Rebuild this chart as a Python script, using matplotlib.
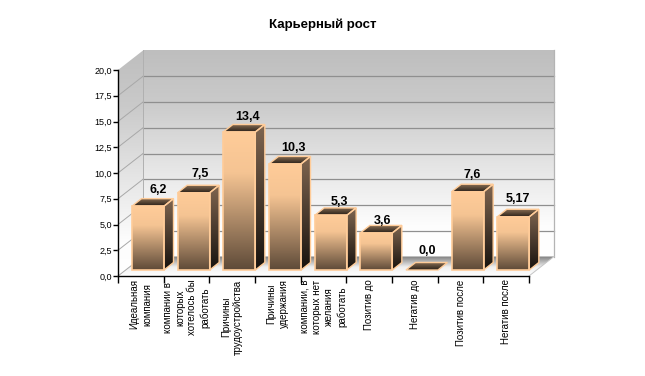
import numpy as np
import matplotlib
matplotlib.use("Agg")
import matplotlib.pyplot as plt
from matplotlib.colors import LinearSegmentedColormap
from matplotlib.patches import Polygon

plt.rcParams['font.family'] = ['Liberation Sans', 'DejaVu Sans']

# Data
title = "Карьерный рост"
categories = [
    "Идеальная\nкомпания",
    "компании в\nкоторых\nхотелось бы\nработать",
    "Причины\nтрудоустройства",
    "Причины\nудержания",
    "компании, в\nкоторых нет\nжелания\nработать",
    "Позитив до",
    "Негатив до",
    "Позитив после",
    "Негатив после",
]
values = [6.2, 7.5, 13.4, 10.3, 5.3, 3.6, 0.0, 7.6, 5.17]
value_labels = ["6,2", "7,5", "13,4", "10,3", "5,3", "3,6", "0,0", "7,6", "5,17"]
y_ticks = [0, 2.5, 5, 7.5, 10, 12.5, 15, 17.5, 20]
y_tick_labels = ["0,0", "2,5", "5,0", "7,5", "10,0", "12,5", "15,0", "17,5", "20,0"]

# where each value label sits relative to its bar, in pixels
label_shift = [10, 7, 8, 8, 9, 6, 5, 5, 4]
label_gap = [8.5, 11, 7, 8, 6, 4.5, 12, 9, 10]

W, H = 645, 376
left, right, top, bottom = 118, 529, 70, 276

fig = plt.figure(figsize=(W / 100, H / 100), dpi=100, facecolor="white")
ax = fig.add_axes([left / W, 1 - bottom / H, (right - left) / W, (bottom - top) / H])
ax.set_facecolor("none")

# pixels per data unit
sx = (right - left) / len(categories)
sy = (bottom - top) / 20

# depth of the 3d box and of a bar, in data units
dx, dy = 25 / sx, 19.5 / sy
bx, by = 9.5 / sx, 7.5 / sy
bar_x, bar_y, bar_w = 14 / sx, 6 / sy, 32 / sx


def grad_poly(pts, colors, zorder=1):
    # fill a polygon with a vertical gradient, first colour at the top
    xs = [p[0] for p in pts]
    ys = [p[1] for p in pts]
    cmap = LinearSegmentedColormap.from_list("g", colors)
    grad = np.linspace(0, 1, 256).reshape(-1, 1)
    im = ax.imshow(grad, cmap=cmap, aspect="auto", origin="upper",
                   extent=[min(xs), max(xs), min(ys), max(ys)], zorder=zorder)
    im.set_clip_box(fig.bbox)
    im.set_clip_path(Polygon(pts, closed=True, transform=ax.transData))
    return im


wall = [(0, "#bebebe"), (0.25, "#cacaca"), (0.55, "#e4e4e4"), (0.85, "#fdfdfd"), (1, "#ffffff")]
n = len(categories)

# back wall, left wall, floor
grad_poly([(dx, dy), (n + dx, dy), (n + dx, 20 + dy), (dx, 20 + dy)], wall)
grad_poly([(0, 0), (dx, dy), (dx, 20 + dy), (0, 20)], wall)
grad_poly([(0, 0), (dx, dy), (n + dx, dy), (n, 0)],
          [(0, "#7c7c7c"), (0.55, "#f0f0f0"), (1, "#ffffff")], zorder=1.5)

# grid lines on the walls
for v in y_ticks[:-1]:
    ax.plot([0, dx], [v, v + dy], color="#a8a8a8", lw=0.7, clip_on=False, zorder=2)
    if v > 0:
        ax.plot([dx, n + dx], [v + dy, v + dy], color="#8f8f8f", lw=0.9, clip_on=False, zorder=2)
ax.plot([dx, dx], [dy, 20 + dy], color="#b0b0b0", lw=0.7, clip_on=False, zorder=2)
ax.plot([n + dx, n + dx], [dy, 20 + dy], color="#b4b4b4", lw=0.9, clip_on=False, zorder=2)
ax.plot([n, n + dx], [0, dy], color="#c4c4c4", lw=0.7, clip_on=False, zorder=2)

# bars
edge = "#ffcc99"
front = [(0, "#ffcc99"), (0.3, "#f5c493"), (1, "#5e4a38")]
side = [(0, "#806650"), (1, "#17120e")]
cap = [(0, "#8a6f55"), (1, "#2a2018")]
for i, v in enumerate(values):
    x0 = i + bar_x
    x1 = x0 + bar_w
    y0 = bar_y
    y1 = y0 + v
    z = 3 + i * 0.01
    if v > 0:
        f_pts = [(x0, y0), (x1, y0), (x1, y1), (x0, y1)]
        s_pts = [(x1, y0), (x1 + bx, y0 + by), (x1 + bx, y1 + by), (x1, y1)]
        grad_poly(f_pts, front, zorder=z)
        grad_poly(s_pts, side, zorder=z)
        ax.add_patch(Polygon(f_pts, fill=False, ec=edge, lw=1.2, clip_on=False, zorder=z + 0.005))
        ax.add_patch(Polygon(s_pts, fill=False, ec=edge, lw=1.0, clip_on=False, zorder=z + 0.004))
    t_pts = [(x0, y1), (x1, y1), (x1 + bx, y1 + by), (x0 + bx, y1 + by)]
    grad_poly(t_pts, cap, zorder=z)
    ax.add_patch(Polygon(t_pts, fill=False, ec=edge, lw=1.0, clip_on=False, zorder=z + 0.004))
    ax.text(x0 + bar_w / 2 + label_shift[i] / sx, y1 + by + label_gap[i] / sy, value_labels[i],
            ha="center", va="center", fontsize=9, fontweight="bold",
            color="black", zorder=5)

ax.set_xlim(0, n)
ax.set_ylim(0, 20)

# axes and ticks
for name in ["top", "right"]:
    ax.spines[name].set_visible(False)
for name in ["left", "bottom"]:
    ax.spines[name].set_linewidth(1.0)
    ax.spines[name].set_zorder(6)
ax.set_yticks(y_ticks)
ax.set_yticklabels(y_tick_labels, fontsize=6.5)
ax.set_xticks(range(n + 1))
ax.set_xticklabels([])
ax.set_xticks([i + 0.5 for i in range(n)], minor=True)
ax.set_xticklabels(categories, minor=True, rotation=90, fontsize=7, ha="center", va="top",
                   multialignment="center", linespacing=1.3)
ax.tick_params(axis="x", which="major", length=5, width=1.0)
ax.tick_params(axis="x", which="minor", length=0, pad=2.5)
ax.tick_params(axis="y", length=3.5, width=1.0, pad=1)

fig.text(323 / W, 1 - 25 / H, title, ha="center", va="center", fontsize=9.5, fontweight="bold")

fig.savefig("out.png", dpi=100)
